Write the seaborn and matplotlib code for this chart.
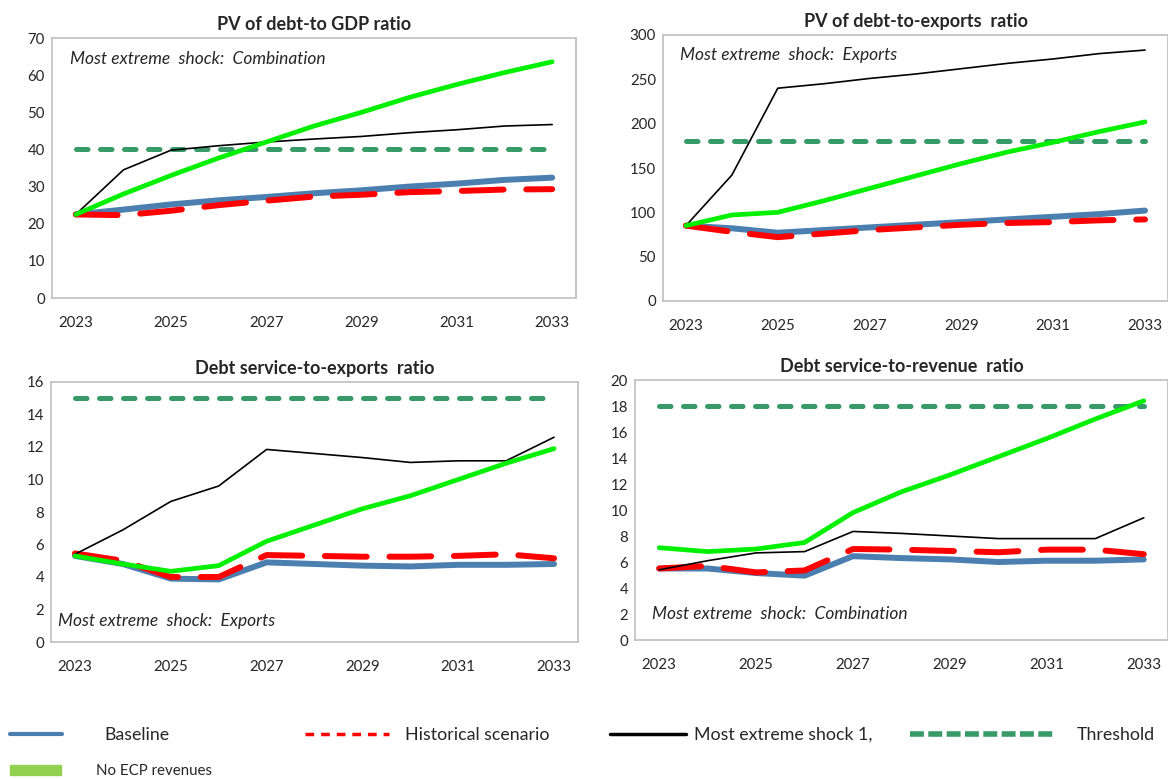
import numpy as np
import pandas as pd
import matplotlib
matplotlib.use("Agg")
import matplotlib.pyplot as plt
import seaborn as sns
from matplotlib.lines import Line2D
from matplotlib.patches import Patch

years = [2023, 2024, 2025, 2026, 2027, 2028, 2029, 2030, 2031, 2032, 2033]

# PV of debt-to GDP ratio
gdp_baseline = [22.5, 23.8, 25.2, 26.3, 27.2, 28.2, 29.0, 30.0, 30.8, 31.8, 32.4]
gdp_hist = [22.5, 22.3, 23.5, 25.0, 26.2, 27.3, 27.8, 28.5, 28.8, 29.2, 29.3]
gdp_shock = [22.5, 34.5, 39.8, 41.0, 42.0, 42.8, 43.5, 44.5, 45.3, 46.3, 46.7]
gdp_noecp = [22.5, 28.0, 33.0, 37.7, 42.0, 46.3, 50.0, 54.0, 57.5, 60.7, 63.6]
gdp_threshold = 40

# PV of debt-to-exports ratio
exp_baseline = [85, 82, 77, 80, 83, 86, 89, 92, 95, 98, 102]
exp_hist = [85, 78, 72, 76, 80, 83, 86, 88, 89, 91, 92]
exp_shock = [85, 142, 240, 245, 251, 256, 262, 268, 273, 279, 283]
exp_noecp = [85, 97, 100, 113, 127, 141, 155, 168, 179, 191, 202]
exp_threshold = 180

# Debt service-to-exports ratio
dse_baseline = [5.3, 4.8, 3.9, 3.85, 4.9, 4.8, 4.7, 4.65, 4.75, 4.75, 4.8]
dse_hist = [5.45, 5.0, 4.0, 4.0, 5.35, 5.3, 5.25, 5.25, 5.3, 5.4, 5.15]
dse_shock = [5.4, 6.9, 8.65, 9.6, 11.85, 11.6, 11.35, 11.05, 11.15, 11.15, 12.6]
dse_noecp = [5.3, 4.8, 4.35, 4.7, 6.2, 7.2, 8.2, 9.0, 10.0, 11.0, 11.9]
dse_threshold = 15

# Debt service-to-revenue ratio
dsr_baseline = [5.5, 5.5, 5.15, 4.95, 6.45, 6.3, 6.2, 6.0, 6.1, 6.1, 6.2]
dsr_hist = [5.5, 5.7, 5.2, 5.35, 7.0, 6.95, 6.85, 6.75, 6.95, 6.95, 6.6]
dsr_shock = [5.4, 6.1, 6.7, 6.8, 8.35, 8.2, 8.0, 7.8, 7.8, 7.8, 9.4]
dsr_noecp = [7.1, 6.8, 7.0, 7.5, 9.8, 11.4, 12.7, 14.1, 15.5, 17.0, 18.4]
dsr_threshold = 18

BLUE = "#4a7fb0"
RED = "#ff0000"
GREEN = "#00f000"
THR = "#379a68"
GREY = "#bfbfbf"

sns.set_style("white")
plt.rcParams['font.family'] = ['Lato', 'DejaVu Sans']

fig = plt.figure(figsize=(11.68, 7.79), dpi=100)

panels = [
    ("PV of debt-to GDP ratio", [52, 38, 576, 298], 70, 10,
     gdp_baseline, gdp_hist, gdp_shock, gdp_noecp, gdp_threshold,
     "Most extreme  shock:  Combination", (0.034, 0.919)),
    ("PV of debt-to-exports  ratio", [663, 35, 1168, 301], 300, 50,
     exp_baseline, exp_hist, exp_shock, exp_noecp, exp_threshold,
     "Most extreme  shock:  Exports", (0.034, 0.925)),
    ("Debt service-to-exports  ratio", [51, 382, 578, 642], 16, 2,
     dse_baseline, dse_hist, dse_shock, dse_noecp, dse_threshold,
     "Most extreme  shock:  Exports", (0.013, 0.081)),
    ("Debt service-to-revenue  ratio", [635, 380, 1168, 640], 20, 2,
     dsr_baseline, dsr_hist, dsr_shock, dsr_noecp, dsr_threshold,
     "Most extreme  shock:  Combination", (0.032, 0.10)),
]

W, H = 1168, 779
x = np.arange(len(years))

for title, box, ymax, ystep, base, hist, shock, noecp, thr, note, npos in panels:
    l, t, r, b = box
    ax = fig.add_axes([l / W, 1 - b / H, (r - l) / W, (b - t) / H])
    df = pd.DataFrame({"x": x, "base": base, "hist": hist, "shock": shock,
                       "noecp": noecp, "thr": [thr] * len(years)})
    sns.lineplot(data=df, x="x", y="thr", ax=ax, color=THR, lw=3.6,
                 linestyle=(0, (2.3, 2.5)), dash_capstyle="round")
    sns.lineplot(data=df, x="x", y="base", ax=ax, color=BLUE, lw=4.3)
    sns.lineplot(data=df, x="x", y="hist", ax=ax, color=RED, lw=4.3,
                 linestyle=(0, (7.0, 3.8)), dash_capstyle="round")
    sns.lineplot(data=df, x="x", y="shock", ax=ax, color="black", lw=1.2)
    sns.lineplot(data=df, x="x", y="noecp", ax=ax, color=GREEN, lw=3.4)

    ax.set_xlim(-0.5, len(years) - 0.5)
    ax.set_ylim(0, ymax)
    ax.set_yticks(np.arange(0, ymax + ystep, ystep))
    ax.set_xticks(x[::2])
    ax.set_xticklabels([str(y) for y in years[::2]])
    ax.set_xticks(x[1:-1:2] + 0.5, minor=True)
    ax.tick_params(axis="x", which="major", length=0, pad=13, labelsize=10.8)
    ax.tick_params(axis="x", which="minor", length=4, direction="in", color=GREY, width=1)
    ax.tick_params(axis="y", length=0, pad=5, labelsize=10.8)
    ax.set_xlabel("")
    ax.set_ylabel("")
    for s in ax.spines.values():
        s.set_visible(True)
        s.set_color(GREY)
        s.set_linewidth(1.2)
    ax.set_title(title, fontsize=13, fontweight="bold", pad=6)
    ax.text(npos[0], npos[1], note, transform=ax.transAxes, fontsize=12.5,
            style="italic", va="center", ha="left")

# legend along the bottom
def leg(handle, label, xpx, ypx, hl, pad, fs=12.8):
    lg = fig.legend([handle], [label], loc="center left",
                    bbox_to_anchor=(xpx / W, 1 - ypx / H), frameon=False,
                    handlelength=hl, handletextpad=pad, borderpad=0,
                    borderaxespad=0, fontsize=fs)
    return lg

leg(Line2D([], [], color=BLUE, lw=3), "Baseline", 10, 735, 2.9, 2.4)
leg(Line2D([], [], color=RED, lw=2.5, linestyle=(0, (2.5, 2))), "Historical scenario", 305, 735, 4.7, 0.9)
leg(Line2D([], [], color="black", lw=2.5), "Most extreme shock 1,", 610, 735, 4.3, 0.4)
leg(Line2D([], [], color=THR, lw=4, linestyle=(0, (2.5, 0.8))), "Threshold", 910, 735, 8.2, 1.2)
leg(Patch(color="#92d050"), "No ECP revenues", 10, 771, 3.4, 2.3, fs=10.8)

fig.savefig("out.png", dpi=100)
